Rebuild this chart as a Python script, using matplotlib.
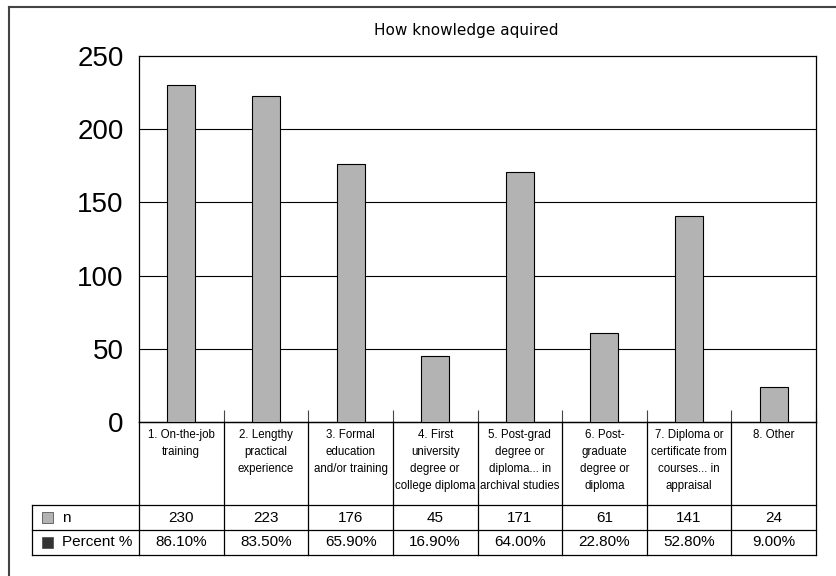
import matplotlib
matplotlib.use('Agg')
import matplotlib.pyplot as plt
import matplotlib.transforms as mtransforms
from matplotlib.lines import Line2D
from matplotlib.patches import Rectangle

# ---------------------------------------------------------------------------
# Data
# ---------------------------------------------------------------------------
categories = [
    '1. On-the-job\ntraining',
    '2. Lengthy\npractical\nexperience',
    '3. Formal\neducation\nand/or training',
    '4. First\nuniversity\ndegree or\ncollege diploma',
    '5. Post-grad\ndegree or\ndiploma... in\narchival studies',
    '6. Post-\ngraduate\ndegree or\ndiploma',
    '7. Diploma or\ncertificate from\ncourses... in\nappraisal',
    '8. Other',
]
n_values = [230, 223, 176, 45, 171, 61, 141, 24]
percent_values = [86.10, 83.50, 65.90, 16.90, 64.00, 22.80, 52.80, 9.00]
series_names = ['n', 'Percent %']
series_colors = ['#b3b3b3', '#333333']
y_ticks = [0, 50, 100, 150, 200, 250]

REGULAR = ['Liberation Sans', 'DejaVu Sans']

W, H = 836, 576
fig = plt.figure(figsize=(W / 100, H / 100), dpi=100)

# plot area in pixels
left, right, top, bottom = 139, 816, 56, 422
ax = fig.add_axes([left / W, (H - bottom) / H, (right - left) / W, (bottom - top) / H])

x = list(range(len(categories)))
ax.bar(x, n_values, width=0.33, color=series_colors[0], edgecolor='black', linewidth=0.8, zorder=3)

ax.set_xlim(-0.5, len(categories) - 0.5)
ax.set_ylim(0, 250)
ax.set_yticks(y_ticks)
ax.set_yticklabels([str(v) for v in y_ticks], fontsize=20, family=REGULAR)
ax.tick_params(axis='y', length=0, pad=11)
for v in y_ticks[1:-1]:
    ax.axhline(v, color='black', linewidth=0.8, zorder=1)

# category separators as inward ticks
bounds = [i - 0.5 for i in range(len(categories) + 1)]
ax.set_xticks(bounds)
ax.set_xticklabels([])
ax.tick_params(axis='x', direction='in', length=9, width=0.8, color='#444444')
for s in ax.spines.values():
    s.set_linewidth(0.9)

# ---------------------------------------------------------------------------
# Data table under the axis
# ---------------------------------------------------------------------------
trans = mtransforms.blended_transform_factory(ax.transData, ax.transAxes)
ah = bottom - top
col_w = (right - left) / len(categories)
y_cat = -(505 - bottom) / ah
y_n = -(530 - bottom) / ah
y_pct = -(555 - bottom) / ah
x_leg = -0.5 - (left - 32) / col_w

def hline(x0, x1, y):
    ax.add_line(Line2D([x0, x1], [y, y], transform=trans, color='black',
                       linewidth=0.9, clip_on=False))

def vline(xv, y0, y1):
    ax.add_line(Line2D([xv, xv], [y0, y1], transform=trans, color='black',
                       linewidth=0.9, clip_on=False))

hline(-0.5, bounds[-1], 0)
for yv in (y_cat, y_n, y_pct):
    hline(x_leg, bounds[-1], yv)
for b in bounds:
    vline(b, 0, y_pct)
vline(x_leg, y_cat, y_pct)

for i, label in enumerate(categories):
    ax.text(i, -7 / ah, label, transform=trans, ha='center', va='top',
            fontsize=8.3, family=REGULAR, linespacing=1.55)
    ax.text(i, (y_cat + y_n) / 2, str(n_values[i]), transform=trans,
            ha='center', va='center', fontsize=11, family=REGULAR)
    ax.text(i, (y_n + y_pct) / 2, f'{percent_values[i]:.2f}%', transform=trans,
            ha='center', va='center', fontsize=11, family=REGULAR)

# legend keys in the first table column
key = 11 / col_w
for (yt, yb), name, color in zip([(y_cat, y_n), (y_n, y_pct)], series_names, series_colors):
    yc = (yt + yb) / 2
    ax.add_patch(Rectangle((x_leg + 10 / col_w, yc - 5.5 / ah), key, 11 / ah,
                           transform=trans, facecolor=color, edgecolor='#555555',
                           linewidth=0.6, clip_on=False))
    ax.text(x_leg + 30 / col_w, yc, name, transform=trans, ha='left', va='center',
            fontsize=11, family=REGULAR)

# title and outer chart frame
fig.text(466 / W, 1 - 30 / H, 'How knowledge aquired', ha='center', va='center',
         fontsize=11, family='DejaVu Sans')
fig.add_artist(Line2D([9 / W, 9 / W], [0, 1 - 7 / H], transform=fig.transFigure,
                      color='#444444', linewidth=1.5))
fig.add_artist(Line2D([9 / W, 1], [1 - 7 / H, 1 - 7 / H], transform=fig.transFigure,
                      color='#444444', linewidth=1.5))

fig.savefig('out.png', dpi=100)
